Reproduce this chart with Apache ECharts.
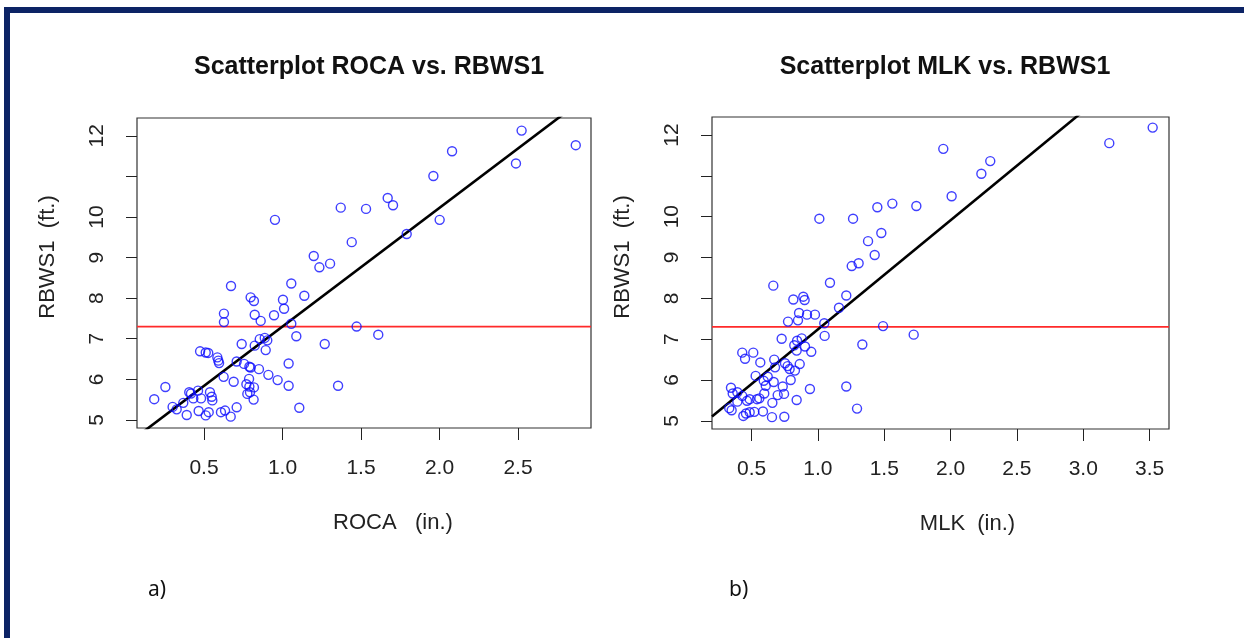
<!DOCTYPE html>
<html>
<head>
<meta charset="utf-8">
<script src="https://cdn.jsdelivr.net/npm/echarts@6/dist/echarts.min.js"></script>
<style>
html,body{margin:0;padding:0;background:#fff;}
#c{width:1244px;height:638px;}
</style>
</head>
<body>
<div id="c"></div>
<script>
// ---- data ----
const titles = ['Scatterplot ROCA vs. RBWS1', 'Scatterplot MLK vs. RBWS1'];
const xNames = ['ROCA   (in.)', 'MLK  (in.)'];
const yName = 'RBWS1  (ft.)';
const panelLabels = ['a)', 'b)'];

const rocaX = [0.952,1.371,1.532,1.441,1.199,1.235,1.303,
  2.523,2.868,2.487,2.080,1.961,1.670,1.704,2.001,1.791,
  1.610,
  0.672,1.056,1.139,0.797,0.818,1.003,1.010,0.627,0.627,0.823,0.861,0.946,1.056,1.472,1.088,1.269,0.855,0.887,0.903,0.740,0.823,0.893,
  0.475,0.511,0.527,0.585,0.591,0.596,0.708,0.755,0.789,0.797,0.850,1.039,0.625,0.689,0.787,0.910,0.969,1.039,0.770,0.789,0.818,0.776,0.793,0.816,
  0.254,0.183,0.300,0.326,0.368,0.406,0.417,0.462,0.432,0.481,0.538,0.549,0.553,0.390,0.466,0.511,0.530,0.608,0.634,0.670,0.708,1.107,1.354];
const rocaY = [9.93,10.23,10.20,9.38,9.04,8.76,8.85,
  12.13,11.77,11.32,11.62,11.01,10.47,10.29,9.93,9.58,
  7.10,
  8.30,8.36,8.06,8.02,7.93,7.96,7.74,7.62,7.41,7.59,7.44,7.58,7.37,7.30,7.06,6.87,6.99,7.02,6.96,6.87,6.83,6.72,
  6.69,6.66,6.65,6.54,6.46,6.40,6.44,6.38,6.31,6.29,6.25,6.39,6.06,5.94,6.01,6.11,5.98,5.84,5.88,5.82,5.80,5.64,5.68,5.50,
  5.81,5.51,5.32,5.26,5.42,5.68,5.65,5.72,5.53,5.53,5.68,5.57,5.48,5.12,5.22,5.11,5.19,5.19,5.23,5.08,5.31,5.30,5.84];

const mlkX = [1.011,1.265,1.448,1.561,1.742,1.945,1.478,1.378,1.428,1.255,1.307,
  2.299,2.232,2.008,3.196,3.523,
  0.664,1.091,1.214,0.815,0.890,0.900,1.159,0.858,0.918,0.978,0.775,0.850,1.048,1.491,1.722,1.051,1.335,0.727,0.843,0.878,0.822,0.903,0.840,0.950,
  0.430,0.513,0.451,0.566,0.671,0.752,0.677,0.772,0.863,0.787,0.827,0.531,0.622,0.592,0.667,0.607,0.795,0.735,
  0.345,0.358,0.393,0.430,0.466,0.486,0.541,0.559,0.596,0.697,0.745,0.332,0.350,0.393,0.657,0.840,0.940,1.214,1.295,
  0.438,0.458,0.486,0.521,0.586,0.654,0.747];
const mlkY = [9.95,9.95,10.23,10.32,10.26,11.66,9.60,9.40,9.06,8.79,8.86,
  11.36,11.05,10.50,11.80,12.18,
  8.31,8.38,8.07,7.97,8.04,7.96,7.77,7.64,7.60,7.60,7.43,7.46,7.39,7.32,7.11,7.08,6.87,7.01,6.96,7.02,6.85,6.82,6.72,6.69,
  6.67,6.67,6.52,6.43,6.50,6.41,6.31,6.34,6.39,6.27,6.23,6.10,6.08,5.98,5.95,5.86,6.00,5.84,
  5.81,5.67,5.70,5.61,5.49,5.53,5.53,5.55,5.67,5.63,5.66,5.31,5.26,5.47,5.44,5.51,5.78,5.84,5.30,
  5.12,5.18,5.21,5.22,5.23,5.09,5.10];

const xTicksA = [0.5, 1.0, 1.5, 2.0, 2.5];
const xTicksB = [0.5, 1.0, 1.5, 2.0, 2.5, 3.0, 3.5];
const yTicks = [5, 6, 7, 8, 9, 10, 11, 12];
const yTickLabels = [5, 6, 7, 8, 9, 10, 12];

// fitted lines (intercept, slope) and threshold
const fitA = [4.376, 2.925];
const fitB = [4.565, 2.673];
const threshold = 7.3;

// axis ranges (R style 4% padding)
const xRangeA = [0.0732, 2.965];
const xRangeB = [0.202, 3.646];
const yRange = [4.8, 12.44];

const pairs = (xs, ys) => xs.map((x, i) => [x, ys[i]]);
const fitLine = (f, r) => [[r[0], f[0] + f[1] * r[0]], [r[1], f[0] + f[1] * r[1]]];
const hLine = (v, r) => [[r[0], v], [r[1], v]];

const FONT = 'Liberation Sans, Arial, sans-serif';
const grids = [
  {left: 137, top: 118, width: 454, height: 310},
  {left: 712, top: 117, width: 457, height: 312}
];

function xAxis(i, range, ticks, name, pad) {
  return {
    type: 'value', gridIndex: i, min: range[0], max: range[1],
    axisLine: {show: false},
    splitLine: {show: false},
    axisTick: {show: true, inside: false, length: 12, customValues: ticks, lineStyle: {color: '#222', width: 1}},
    axisLabel: {customValues: ticks, margin: 30, fontSize: 21, color: '#222', fontFamily: FONT,
      formatter: v => v.toFixed(1)},
    name: name, nameLocation: 'middle', nameGap: 84,
    nameTextStyle: {fontSize: 22, color: '#222', fontFamily: FONT, padding: [0, 0, 0, pad]}
  };
}
function yAxis(i) {
  return {
    type: 'value', gridIndex: i, min: yRange[0], max: yRange[1],
    axisLine: {show: false},
    splitLine: {show: false},
    axisTick: {show: true, inside: false, length: 11, customValues: yTicks, lineStyle: {color: '#222', width: 1}},
    axisLabel: {customValues: yTickLabels, margin: 29, fontSize: 21, color: '#222', fontFamily: FONT, rotate: 90},
    name: yName, nameLocation: 'middle', nameGap: 78,
    nameTextStyle: {fontSize: 22, color: '#222', fontFamily: FONT, padding: [0, 0, 0, 32]}
  };
}

const scatterStyle = {color: 'rgba(0,0,0,0)', borderColor: '#0f0fff', borderWidth: 1.4};

const option = {
  backgroundColor: '#ffffff',
  animation: false,
  title: [
    {text: titles[0], left: 364, top: 50, textAlign: 'center',
      textStyle: {fontSize: 25, fontWeight: 'bold', color: '#111', fontFamily: FONT}},
    {text: titles[1], left: 940, top: 50, textAlign: 'center',
      textStyle: {fontSize: 25, fontWeight: 'bold', color: '#111', fontFamily: FONT}}
  ],
  grid: grids.map(g => Object.assign({show: true, borderColor: '#333', borderWidth: 1.2, backgroundColor: 'transparent'}, g)),
  xAxis: [xAxis(0, xRangeA, xTicksA, xNames[0], 58), xAxis(1, xRangeB, xTicksB, xNames[1], 54)],
  yAxis: [yAxis(0), yAxis(1)],
  series: [
    {type: 'line', xAxisIndex: 0, yAxisIndex: 0, data: hLine(threshold, xRangeA), symbol: 'none',
      lineStyle: {color: '#ff2a2a', width: 1.8}, clip: true, silent: true, z: 1},
    {type: 'line', xAxisIndex: 0, yAxisIndex: 0, data: fitLine(fitA, xRangeA), symbol: 'none',
      lineStyle: {color: '#000', width: 2.6}, clip: true, silent: true, z: 2},
    {type: 'scatter', xAxisIndex: 0, yAxisIndex: 0, data: pairs(rocaX, rocaY), symbol: 'circle', symbolSize: 9,
      itemStyle: scatterStyle, z: 3},
    {type: 'line', xAxisIndex: 1, yAxisIndex: 1, data: hLine(threshold, xRangeB), symbol: 'none',
      lineStyle: {color: '#ff2a2a', width: 1.8}, clip: true, silent: true, z: 1},
    {type: 'line', xAxisIndex: 1, yAxisIndex: 1, data: fitLine(fitB, xRangeB), symbol: 'none',
      lineStyle: {color: '#000', width: 2.6}, clip: true, silent: true, z: 2},
    {type: 'scatter', xAxisIndex: 1, yAxisIndex: 1, data: pairs(mlkX, mlkY), symbol: 'circle', symbolSize: 9,
      itemStyle: scatterStyle, z: 3}
  ],
  graphic: [
    {type: 'rect', shape: {x: 7, y: 10, width: 1260, height: 660}, style: {fill: 'none', stroke: '#0c2365', lineWidth: 6}, z: 100},
    {type: 'text', x: 148, y: 580, style: {text: panelLabels[0], fontSize: 21, fill: '#111', fontFamily: 'Noto Sans, sans-serif'}},
    {type: 'text', x: 729, y: 580, style: {text: panelLabels[1], fontSize: 21, fill: '#111', fontFamily: 'Noto Sans, sans-serif'}}
  ]
};

const chart = echarts.init(document.getElementById('c'), null, {renderer: 'canvas'});
chart.setOption(option);
</script>
</body>
</html>
